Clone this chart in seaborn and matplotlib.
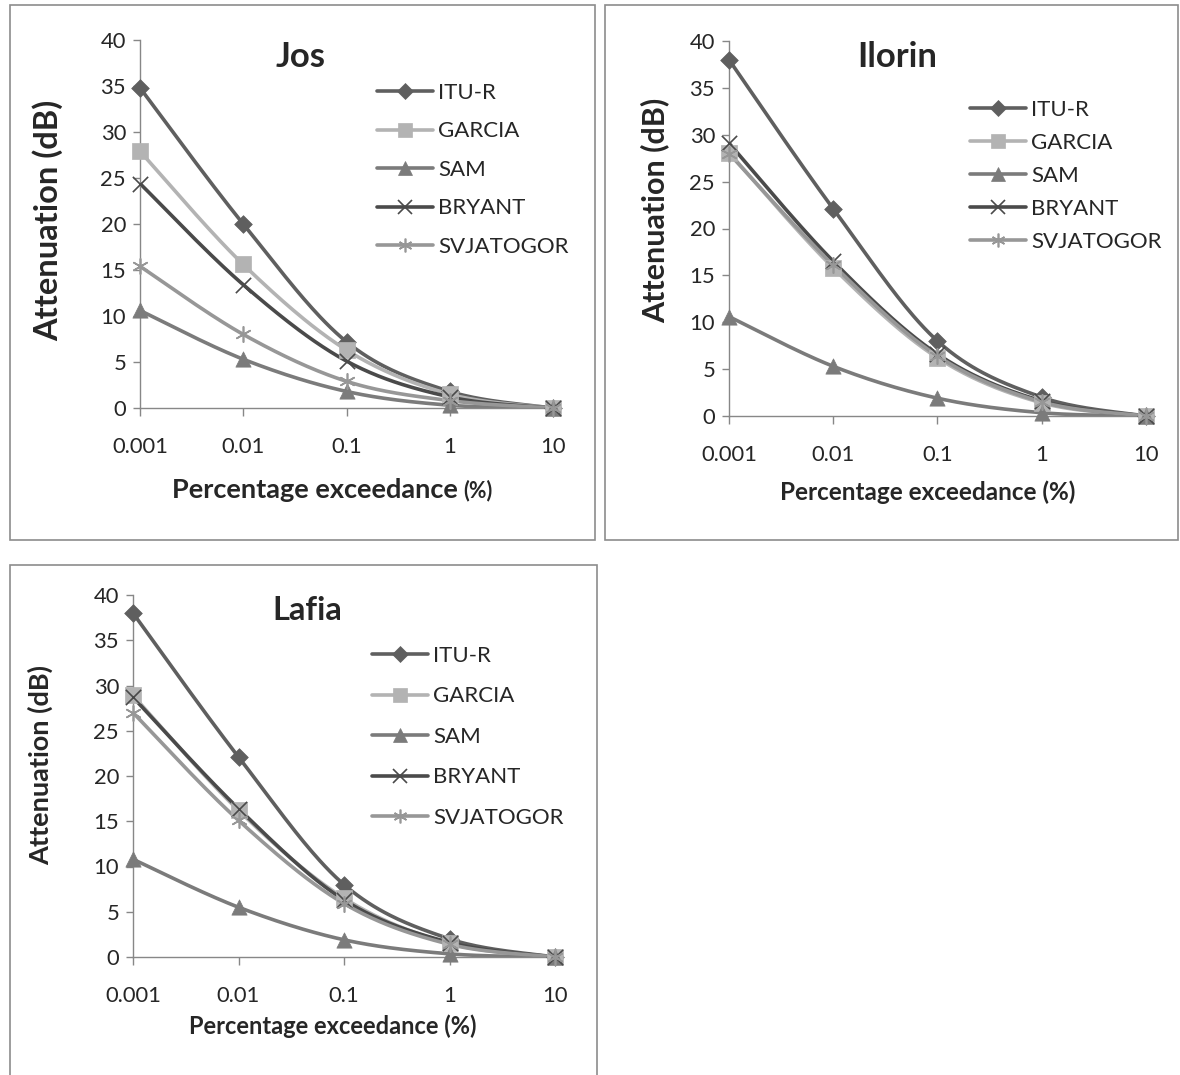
import numpy as np
import pandas as pd
import matplotlib
matplotlib.use("Agg")
import matplotlib.pyplot as plt
import seaborn as sns
from matplotlib.lines import Line2D
from matplotlib.patches import Rectangle

# data
x_pct = [0.001, 0.01, 0.1, 1, 10]
models = ["ITU-R", "GARCIA", "SAM", "BRYANT", "SVJATOGOR"]

jos_itu = [34.8, 20.0, 7.2, 1.8, 0]
jos_garcia = [27.9, 15.6, 6.3, 1.5, 0]
jos_sam = [10.6, 5.3, 1.8, 0.3, 0]
jos_bryant = [24.4, 13.4, 5.1, 1.2, 0]
jos_svj = [15.4, 8.0, 2.9, 0.8, 0]

ilorin_itu = [38.0, 22.1, 8.0, 2.0, 0]
ilorin_garcia = [28.1, 15.8, 6.2, 1.4, 0]
ilorin_sam = [10.6, 5.3, 1.9, 0.35, 0]
ilorin_bryant = [29.1, 16.5, 6.6, 1.6, 0]
ilorin_svj = [28.0, 16.1, 6.4, 1.5, 0]

lafia_itu = [38.0, 22.1, 8.0, 2.0, 0]
lafia_garcia = [28.9, 16.2, 6.5, 1.5, 0]
lafia_sam = [10.8, 5.5, 1.9, 0.35, 0]
lafia_bryant = [28.7, 16.4, 6.3, 1.6, 0]
lafia_svj = [27.0, 15.1, 5.9, 1.4, 0]

colors = {"ITU-R": "#5f5f5f", "GARCIA": "#b3b3b3", "SAM": "#7b7b7b",
          "BRYANT": "#4a4a4a", "SVJATOGOR": "#979797"}
marks = {"ITU-R": "D", "GARCIA": "s", "SAM": "^", "BRYANT": "x", "SVJATOGOR": (6, 2, 0)}
msize = {"ITU-R": 9, "GARCIA": 11, "SAM": 11, "BRYANT": 11, "SVJATOGOR": 11}

W, H = 1180, 1075

sns.set_style("white")
plt.rcParams["font.family"] = ["Lato", "DejaVu Sans"]


def smooth(xs, ys, n=40):
    # excel-like smoothed line (bezier through the points) in log10 x space
    lx = np.log10(xs)
    ys = np.asarray(ys, float)
    px = np.concatenate([[lx[0]], lx, [lx[-1]]])
    py = np.concatenate([[ys[0]], ys, [ys[-1]]])
    outx, outy = [], []
    t = np.linspace(0, 1, n)
    for i in range(1, len(px) - 2):
        p0 = np.array([px[i], py[i]])
        p3 = np.array([px[i + 1], py[i + 1]])
        c1 = p0 + (p3 - np.array([px[i - 1], py[i - 1]])) / 6
        c2 = p3 - (np.array([px[i + 2], py[i + 2]]) - p0) / 6
        b = ((1 - t) ** 3)[:, None] * p0 + (3 * (1 - t) ** 2 * t)[:, None] * c1 \
            + (3 * (1 - t) * t ** 2)[:, None] * c2 + (t ** 3)[:, None] * p3
        outx.extend(b[:, 0])
        outy.extend(b[:, 1])
    return 10 ** np.array(outx), np.array(outy)


def panel(left, right, ytop, ybot, series, title, title_xy, title_size, ylab_xy,
          leg_xy, leg_space, ylab_size):
    ax = fig.add_axes([left / W, 1 - ybot / H, (right - left) / W, (ybot - ytop) / H])
    for name, vals in zip(models, series):
        sx, sy = smooth(x_pct, vals)
        dense = pd.DataFrame({"x": sx, "y": sy})
        sns.lineplot(data=dense, x="x", y="y", ax=ax, color=colors[name], lw=2.6,
                     sort=False, estimator=None)
        pts = pd.DataFrame({"x": x_pct, "y": vals})
        if name == "BRYANT" or name == "SVJATOGOR":
            sns.scatterplot(data=pts, x="x", y="y", ax=ax, marker=marks[name],
                            s=msize[name] ** 2, color=colors[name], linewidth=1.2,
                            zorder=5, clip_on=False)
        else:
            sns.scatterplot(data=pts, x="x", y="y", ax=ax, marker=marks[name],
                            s=msize[name] ** 2, color=colors[name],
                            edgecolor=colors[name], linewidth=0.5, zorder=5, clip_on=False)
    ax.set_xscale("log")
    ax.set_xlim(0.001, 10)
    ax.set_ylim(0, 40)
    ax.set_xticks(x_pct)
    ax.set_xticklabels(["0.001", "0.01", "0.1", "1", "10"])
    ax.set_yticks(range(0, 41, 5))
    ax.minorticks_off()
    ax.set_xlabel("")
    ax.set_ylabel("")
    for s in ["top", "right"]:
        ax.spines[s].set_visible(False)
    for s in ["left", "bottom"]:
        ax.spines[s].set_color("#878787")
        ax.spines[s].set_linewidth(1.0)
    ax.tick_params(axis="x", length=6, width=1, color="#878787", pad=15,
                   labelsize=15.8, direction="out", bottom=True)
    ax.tick_params(axis="y", length=5, width=1, color="#878787", pad=5,
                   labelsize=15.8, direction="out", left=True)
    ax.patch.set_alpha(0)

    handles = [Line2D([], [], color=colors[m], lw=2.6, marker=marks[m],
                      markersize=msize[m] * 0.9, markeredgewidth=1.2 if m in ("BRYANT", "SVJATOGOR") else 0.5)
               for m in models]
    ax.legend(handles, models, loc="upper left",
              bbox_to_anchor=(leg_xy[0] / W, 1 - leg_xy[1] / H),
              bbox_transform=fig.transFigure, frameon=False, fontsize=16,
              handlelength=2.5, handletextpad=0.25, labelspacing=leg_space,
              borderpad=0, borderaxespad=0)

    fig.text(title_xy[0] / W, 1 - title_xy[1] / H, title, fontsize=title_size,
             fontweight="bold", ha="center", va="center")
    fig.text(ylab_xy[0] / W, 1 - ylab_xy[1] / H, "Attenuation (dB)", fontsize=ylab_size,
             fontweight="bold", rotation=90, ha="center", va="center")
    return ax


fig = plt.figure(figsize=(W / 100, H / 100), dpi=100)

# panel boxes
for (x0, y0, x1, y1) in [(10, 5, 595, 540), (605, 5, 1178, 540), (10, 565, 597, 1090)]:
    fig.patches.append(Rectangle((x0 / W, 1 - y1 / H), (x1 - x0) / W, (y1 - y0) / H,
                                 transform=fig.transFigure, fill=False,
                                 edgecolor="#8c8c8c", lw=1.2))

panel(140, 553, 40, 408, [jos_itu, jos_garcia, jos_sam, jos_bryant, jos_svj], "Jos",
      (301, 57), 25, (48, 220), (377, 83), 0.83, 23.5)
fig.text(172 / W, 1 - 490 / H, "Percentage exceedance", fontsize=19.5, fontweight="bold",
         ha="left", va="center")
fig.text(463 / W, 1 - 491 / H, "(%)", fontsize=15.5, fontweight="bold", ha="left", va="center")

panel(729, 1146, 41, 416, [ilorin_itu, ilorin_garcia, ilorin_sam, ilorin_bryant, ilorin_svj],
      "Ilorin", (897, 57), 25, (655, 210), (970, 100), 0.58, 22)
fig.text(928 / W, 1 - 492 / H, "Percentage exceedance (%)", fontsize=17.5, fontweight="bold",
         ha="center", va="center")

panel(133, 555, 595, 957, [lafia_itu, lafia_garcia, lafia_sam, lafia_bryant, lafia_svj],
      "Lafia", (307, 610), 23.5, (40, 765), (372, 646), 0.92, 19.5)
fig.text(333 / W, 1 - 1026 / H, "Percentage exceedance (%)", fontsize=17, fontweight="bold",
         ha="center", va="center")

fig.savefig("out.png", dpi=100)
